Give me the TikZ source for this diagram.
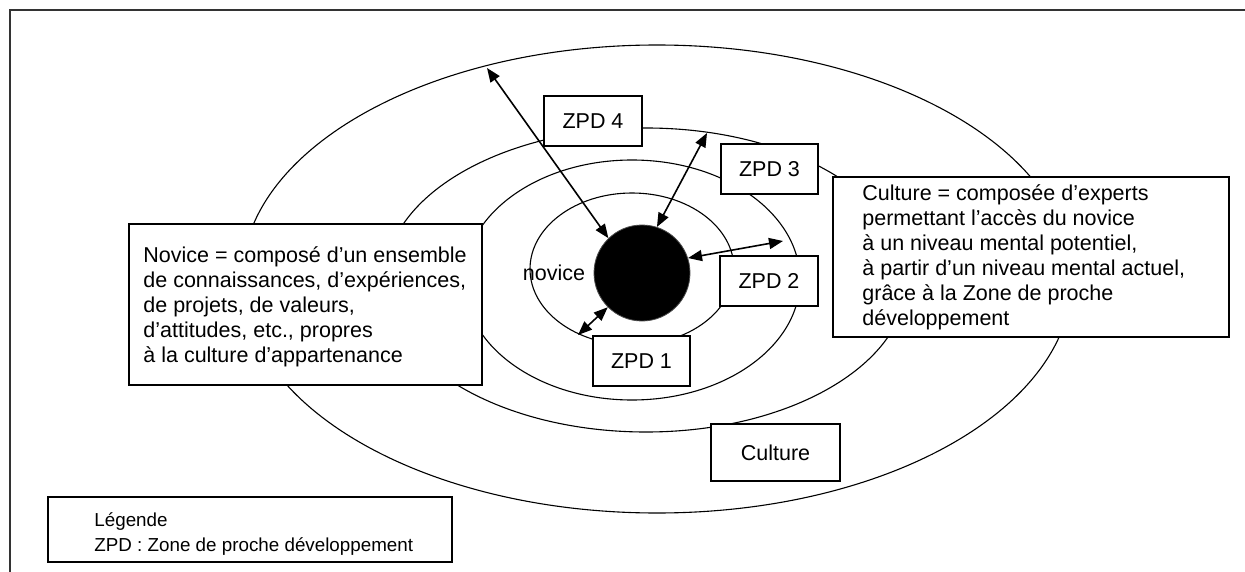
\documentclass[tikz,border=0pt]{standalone}
\usepackage{fontspec}
\setmainfont{Liberation Sans}
\usetikzlibrary{arrows.meta}

\begin{document}
\begin{tikzpicture}[x=1pt,y=-1pt,line cap=round,
	ring/.style={line width=1.1pt},
	zbox/.style={draw,line width=1.6pt,fill=white,inner sep=0pt,
		minimum width=98pt,minimum height=50pt,font=\fontsize{21.5}{25}\selectfont},
	bigbox/.style={draw,line width=1.6pt,fill=white,inner sep=0pt},
	txt/.style={align=left,inner sep=0pt,font=\fontsize{21.5}{25}\selectfont},
	link/.style={{Triangle[length=14pt,width=11pt]}-{Triangle[length=14pt,width=11pt]},line width=1.6pt}]
	
	\useasboundingbox (0,0) rectangle (1245,572);
	
	% cadre
	\draw[line width=1.2pt,black!80] (10,572) -- (10,10) -- (1245,10);
	
	% ---- zones (ellipses) ----
	\draw[ring] (632,269) ellipse [x radius=102pt,y radius=76pt];
	\draw[ring] (632,280) ellipse [x radius=168pt,y radius=120pt];
	\draw[ring] (646,280) ellipse [x radius=261pt,y radius=152pt];
	\draw[ring] (657,279) ellipse [x radius=415pt,y radius=234pt];
	
	% ---- novice ----
	\node[circle,fill=black,draw=black!70,line width=0.8pt,minimum size=96pt,inner sep=0pt] (core) at (642,273) {};
	\node[txt] (novlabel) at (554,273) {novice};
	
	% ---- boites ZPD ----
	\node[zbox] (zpd4) at (593,121) {ZPD 4};
	\node[zbox,minimum width=97pt] (zpd3) at (769.5,169) {ZPD 3};
	\node[zbox] (zpd2) at (769,281) {ZPD 2};
	\node[zbox,minimum width=97pt] (zpd1) at (641.5,361) {ZPD 1};
	\node[zbox,minimum width=129pt,minimum height=57pt] (cult) at (775.5,452.5) {Culture};
	
	% ---- textes explicatifs ----
	\node[bigbox,minimum width=353pt,minimum height=161pt] (novbox) at (305.5,304.5) {};
	\node[txt,anchor=west] (novtxt) at ([xshift=15pt,yshift=-2.5pt]novbox.west)
	{Novice = composé d’un ensemble\\de connaissances, d’expériences,\\de projets, de valeurs,\\d’attitudes, etc., propres\\à la culture d’appartenance};
	
	\node[bigbox,minimum width=396pt,minimum height=160pt] (cultbox) at (1031,257) {};
	\node[txt,anchor=west] (culttxt) at ([xshift=30pt]cultbox.west)
	{Culture = composée d’experts\\permettant l’accès du novice\\à un niveau mental potentiel,\\à partir d’un niveau mental actuel,\\grâce à la Zone de proche\\développement};
	
	% ---- legende ----
	\node[bigbox,minimum width=404pt,minimum height=65pt] (legbox) at (250,529.5) {};
	\node[txt,anchor=west,font=\fontsize{18.8}{25}\selectfont] (legtxt) at ([xshift=47pt,yshift=-5pt]legbox.west)
	{Légende\\ZPD : Zone de proche développement};
	
	% ---- fleches ----
	\coordinate (t4) at (487,68);
	\coordinate (t3) at (707,133);
	\coordinate (t2) at (783,241);
	\coordinate (t1) at (578,335);
	\draw[link] (t4) -- (core.134);
	\draw[link] (t3) -- (core.72);
	\draw[link] (core.18) -- (t2);
	\draw[link] (core.225) -- (t1);
	
\end{tikzpicture}
\end{document}
